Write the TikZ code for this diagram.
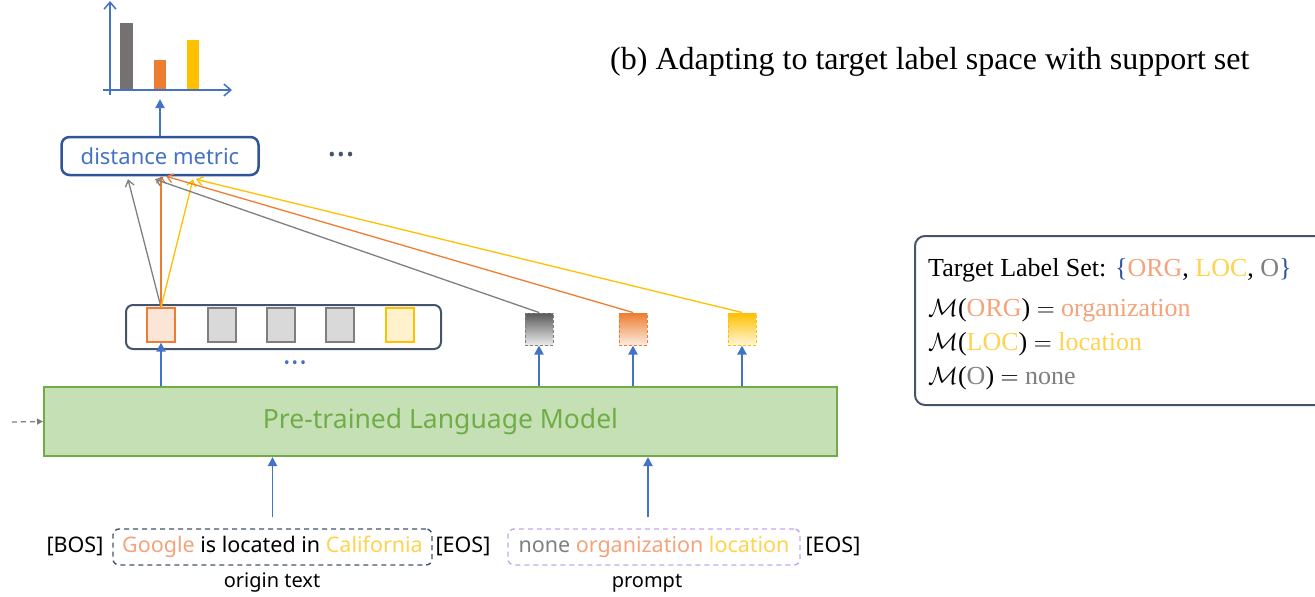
\documentclass[tikz,border=0pt]{standalone}
\usepackage{fontspec}
\setmainfont{Liberation Serif}
\newfontfamily\uif{Noto Sans}
\usetikzlibrary{arrows.meta}
\definecolor{cgray}{HTML}{7F7F7F}
\definecolor{cbar}{HTML}{767171}
\definecolor{corange}{HTML}{ED7D31}
\definecolor{lorange}{HTML}{F4A37A}
\definecolor{cyellow}{HTML}{FFC000}
\definecolor{lyellow}{HTML}{FFD34D}
\definecolor{cblue}{HTML}{4472C4}
\definecolor{dblue}{HTML}{44546A}
\definecolor{bblue}{HTML}{2F5597}
\definecolor{pgreen}{HTML}{C5E0B4}
\definecolor{dgreen}{HTML}{70AD47}
\definecolor{purp}{HTML}{C3A6EE}
\tikzset{
  uparr/.style={draw=cblue, line width=1.9pt, -{Triangle[length=9pt,width=9pt]}},
  axis/.style={draw=cblue, line width=1.5pt, -{Straight Barb[length=7pt,width=12pt]}},
  simarr/.style={line width=1.3pt, -{Straight Barb[length=6pt,width=9pt]}},
  sq/.style={rectangle, minimum width=28pt, minimum height=34pt, inner sep=0pt, line width=1.3pt},
  dsq/.style={rectangle, minimum width=28pt, minimum height=32pt, inner sep=0pt, line width=1pt, dashed, dash pattern=on 3pt off 2pt},
  rbox/.style={draw=bblue, line width=2.5pt, rounded corners=8pt},
  uitext/.style={font=\uif\fontsize{21.5}{24}\selectfont, inner sep=0pt},
  rtext/.style={anchor=west, inner sep=0pt, font=\fontsize{26}{28}\selectfont},
}
\newcommand{\tridots}{\textbullet\kern2pt\textbullet\kern2pt\textbullet}
\begin{document}
\begin{tikzpicture}[x=1pt,y=-1pt]
\useasboundingbox (0,0) rectangle (1315,597);
\clip (0,0) rectangle (1315,597);
% chart
\fill[cbar] (120,23) rectangle (133,90);
\fill[corange] (154,60) rectangle (166,90);
\fill[cyellow] (187,40) rectangle (199,90);
\coordinate (yo) at (110,95);
\coordinate (yt) at (110,1);
\coordinate (xo) at (103,90);
\coordinate (xt) at (232,90);
\draw[axis] (yo) -- (yt);
\draw[axis] (xo) -- (xt);
% distance metric
\node[rbox, minimum width=197pt, minimum height=38pt, inner sep=0pt, text=cblue, font=\uif\fontsize{22}{24}\selectfont] (dm) at (160,156) {distance metric};
\coordinate (ct) at (160,99);
\draw[uparr] (dm.north) -- (ct);
\node[text=dblue, inner sep=0pt, font=\uif\fontsize{19}{20}\selectfont] (dots1) at (341,157) {\tridots};
% group of token vectors
\node[draw=dblue, line width=2pt, rounded corners=7pt, minimum width=315pt, minimum height=44pt, inner sep=0pt] (grp) at (283.5,327) {};
\node[sq, draw=corange, fill=corange!20] (s1) at (161,325) {};
\node[sq, draw=cgray, fill=black!15] (s2) at (222,325) {};
\node[sq, draw=cgray, fill=black!15] (s3) at (281,325) {};
\node[sq, draw=cgray, fill=black!15] (s4) at (340,325) {};
\node[sq, draw=cyellow, fill=cyellow!20] (s5) at (400,325) {};
\node[text=cblue, inner sep=0pt, font=\uif\fontsize{16}{18}\selectfont] (dots2) at (295,365) {\tridots};
% label vectors
\node[dsq, draw=cgray, top color=black!65, bottom color=black!8] (lg) at (539,329) {};
\node[dsq, draw=corange, top color=corange, bottom color=corange!15] (lo) at (633,329) {};
\node[dsq, draw=cyellow, top color=cyellow, bottom color=cyellow!15] (ly) at (742,329) {};
% PLM
\node[draw=dgreen, fill=pgreen, line width=2pt, minimum width=793pt, minimum height=69pt, inner sep=0pt, text=dgreen, font=\uif\fontsize{26.5}{28}\selectfont] (plm) at (440.5,421.5) {Pre-trained Language Model};
\coordinate (din) at (12,422);
\draw[cgray, line width=1.3pt, dashed, dash pattern=on 5pt off 4pt, -{Triangle[length=6pt,width=6pt]}] (din) -- (plm.west);
\draw[uparr] (plm.north -| s1) -- (s1.south);
\draw[uparr] (plm.north -| lg) -- (lg.south);
\draw[uparr] (plm.north -| lo) -- (lo.south);
\draw[uparr] (plm.north -| ly) -- (ly.south);
% similarity arrows
\draw[simarr, cgray] (s1.north) -- ([xshift=-32pt,yshift=-3pt]dm.south);
\draw[simarr, corange] (s1.north) -- ([xshift=1pt]dm.south);
\draw[simarr, cyellow] (s1.north) -- ([xshift=33pt,yshift=-3pt]dm.south);
\draw[simarr, cgray] (lg.north) -- ([xshift=-5pt,yshift=-3pt]dm.south);
\draw[simarr, corange] (lo.north) -- ([xshift=6pt]dm.south);
\draw[simarr, cyellow] (ly.north) -- ([xshift=36pt,yshift=-3pt]dm.south);
% input text
\node[uitext] (bos) at (75,546) {[BOS]};
\node[uitext, draw=dblue, line width=1.4pt, dashed, dash pattern=on 5pt off 4pt, rounded corners=6pt, minimum width=319pt, minimum height=36pt] (orig) at (272.5,547) {\textcolor{lorange}{Google} is located in \textcolor{lyellow}{California}};
\node[uitext] (eos1) at (463,546) {[EOS]};
\node[uitext, draw=purp, line width=1.4pt, dashed, dash pattern=on 5pt off 4pt, rounded corners=6pt, minimum width=292pt, minimum height=36pt] (pr) at (654,547) {\textcolor{cgray}{none} \textcolor{lorange}{organization} \textcolor{lyellow}{location}};
\node[uitext] (eos2) at (833,546) {[EOS]};
\node[font=\uif\fontsize{20}{22}\selectfont, inner sep=0pt] (ol) at (272,583) {origin text};
\node[font=\uif\fontsize{20}{22}\selectfont, inner sep=0pt] (pl) at (647,583) {prompt};
\coordinate (oin) at ([yshift=11pt]orig.north);
\coordinate (pin) at ([xshift=-6pt,yshift=11pt]pr.north);
\draw[uparr] (oin) -- (plm.south -| oin);
\draw[uparr] (pin) -- (plm.south -| pin);
% title
\node[font=\fontsize{32}{34}\selectfont, inner sep=0pt, anchor=west] (title) at (610,62) {(b) Adapting to target label space with support set};
% label set box
\node[draw=dblue, line width=2pt, rounded corners=10pt, minimum width=420pt, minimum height=169pt, inner sep=0pt] (lsb) at (1125,320.5) {};
\node[rtext] (t1) at (928,270) {Target Label Set: \textcolor{bblue}{\{}\textcolor{lorange}{ORG}, \textcolor{lyellow}{LOC}, \textcolor{cgray}{O}\textcolor{bblue}{\}}};
\node[rtext] (t2) at (928,310) {$\mathcal{M}$(\textcolor{lorange}{ORG}) $=$ \textcolor{lorange}{organization}};
\node[rtext] (t3) at (928,344) {$\mathcal{M}$(\textcolor{lyellow}{LOC}) $=$ \textcolor{lyellow}{location}};
\node[rtext] (t4) at (928,378) {$\mathcal{M}$(\textcolor{cgray}{O}) $=$ \textcolor{cgray}{none}};
\end{tikzpicture}
\end{document}
